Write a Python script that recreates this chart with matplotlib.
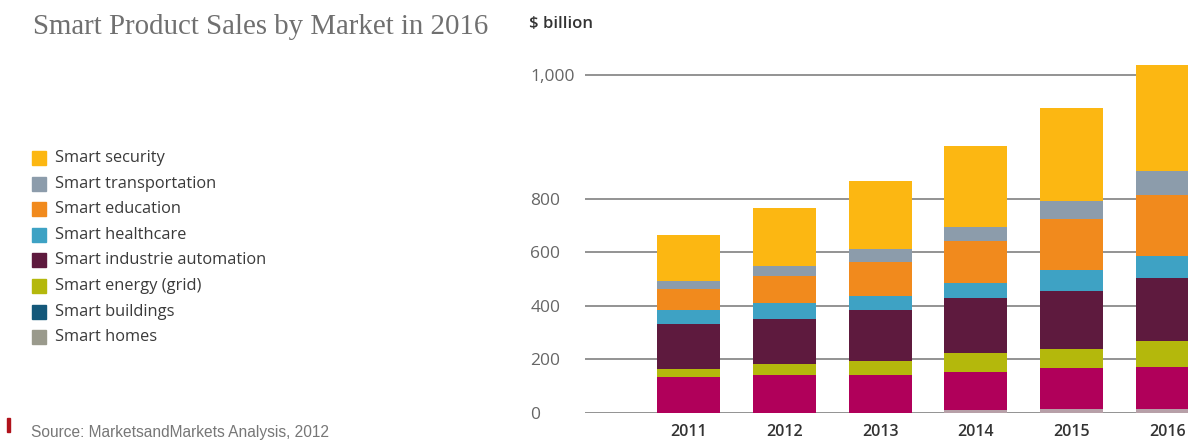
import numpy as np
import matplotlib
matplotlib.use("Agg")
import matplotlib.pyplot as plt
from matplotlib.patches import Rectangle

# Sales by market, $ billion (stacked bottom -> top)
years = ["2011", "2012", "2013", "2014", "2015", "2016"]
smart_homes = [0, 0, 0, 10, 13, 13]
smart_buildings = [135, 141, 141, 144, 154, 157]
smart_energy = [28, 40, 52, 69, 71, 98]
smart_industrie = [168, 170, 191, 206, 219, 235]
smart_healthcare = [53, 59, 52, 56, 78, 85]
smart_education = [79, 102, 128, 158, 190, 219]
smart_transportation = [30, 39, 48, 54, 66, 39]
smart_security = [172, 216, 217, 188, 156, 171]

series = [
    ("Smart homes", smart_homes),
    ("Smart buildings", smart_buildings),
    ("Smart energy (grid)", smart_energy),
    ("Smart industrie automation", smart_industrie),
    ("Smart healthcare", smart_healthcare),
    ("Smart education", smart_education),
    ("Smart transportation", smart_transportation),
    ("Smart security", smart_security),
]
bar_colors = ["#b7a0a8", "#b0005a", "#b4b80c", "#5e1a3e", "#3ea2c4",
              "#f18a1d", "#8c9cab", "#fcb712"]
legend_colors = ["#9a9a8c", "#14587a", "#b4b80c", "#5e1a3e", "#3ea2c4",
                 "#f18a1d", "#8c9cab", "#fcb712"]

yticks = [0, 200, 400, 600, 800, 1000]
ytick_labels = ["0", "200", "400", "600", "800", "1,000"]

# axis is stretched above 800
K = 2.32


def forward(v):
    v = np.asarray(v, dtype=float)
    return np.where(v <= 800, v, 800 + (v - 800) * K)


def inverse(u):
    u = np.asarray(u, dtype=float)
    return np.where(u <= 800, u, 800 + (u - 800) / K)


W, H = 1188, 440
fig = plt.figure(figsize=(W / 100, H / 100), dpi=100)
fig.patch.set_facecolor("white")

ax = fig.add_axes([585 / W, (H - 412.7) / H, 645 / W, 362.4 / H])
ax.set_yscale("function", functions=(forward, inverse))

x = np.arange(len(years))
bottom = np.zeros(len(years))
for (name, vals), c in zip(series, bar_colors):
    ax.bar(x, vals, width=0.657, bottom=bottom, color=c, zorder=3, linewidth=0)
    bottom += np.array(vals)

ax.set_xlim(-1.078, 5.65)
ax.set_ylim(0, 1040)
ax.set_yticks(yticks)
ax.set_yticklabels(ytick_labels, fontsize=12.5, color="#666666", family="Open Sans", ha="left")
ax.tick_params(axis="y", length=0, pad=39.5)
ax.set_xticks(x)
ax.set_xticklabels(years, fontsize=11.5, color="#333333", family="Open Sans", fontweight="semibold")
ax.tick_params(axis="x", length=0, pad=8)
ax.yaxis.grid(True, color="#8a8a8a", linewidth=1.3, zorder=0)
for s in ax.spines.values():
    s.set_visible(False)

fig.text(529 / W, 1 - 24 / H, "$ billion", fontsize=12, color="#333333",
         family="Open Sans", fontweight="semibold", va="center", ha="left")

fig.text(33 / W, 1 - 27 / H, "Smart Product Sales by Market in 2016", fontsize=20.8,
         color="#707070", family="Liberation Serif", va="center", ha="left")

# legend, top entry first
for i, ((name, _), c) in enumerate(zip(series[::-1], legend_colors[::-1])):
    yc = 158 + i * 25.6
    fig.patches.append(Rectangle((32 / W, 1 - (yc + 7) / H), 14 / W, 14 / H,
                                 transform=fig.transFigure, color=c))
    fig.text(55 / W, 1 - yc / H, name, fontsize=11.8, color="#3a3a3a",
             family="Open Sans", va="center", ha="left")

fig.patches.append(Rectangle((7 / W, 1 - 432 / H), 3 / W, 14 / H,
                             transform=fig.transFigure, color="#b0121b"))
fig.text(31 / W, 1 - 432 / H, "Source: MarketsandMarkets Analysis, 2012", fontsize=11.2,
         color="#777777", family="Liberation Sans", va="center", ha="left")

fig.savefig("out.png", dpi=100)
